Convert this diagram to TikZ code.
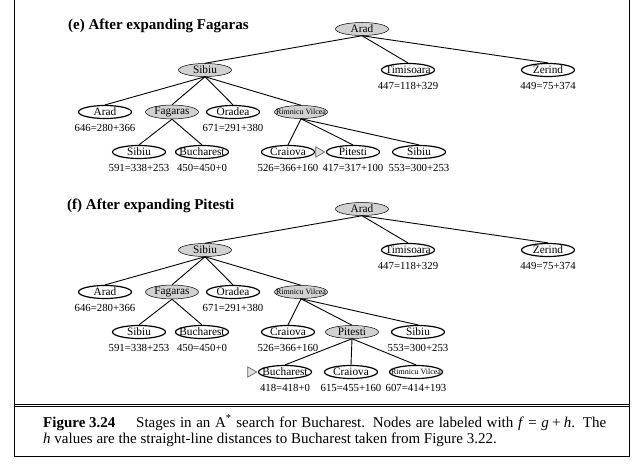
\documentclass[tikz,border=0pt]{standalone}
\usepackage{fontspec}
\setmainfont{Liberation Serif}
\usetikzlibrary{positioning,shapes.geometric}

\begin{document}
\begin{tikzpicture}[x=1pt, y=-1pt, node distance=5.5pt,
    every node/.style={font=\fontsize{11.3}{13}\selectfont, inner sep=0pt},
    city/.style={ellipse, draw, line width=1.2pt, inner xsep=-12pt, minimum width=53pt, minimum height=13pt},
    done/.style={city, fill=black!18, line width=0.5pt},
    tiny city/.style={font=\fontsize{8}{9}\selectfont},
    val/.style={font=\fontsize{10.8}{12}\selectfont},
    edge/.style={line width=0.9pt},
    goalmark/.style={regular polygon, regular polygon sides=3, shape border rotate=-90, draw=black!60, fill=black!12, line width=0.7pt, minimum size=12pt, inner sep=0pt},
    head/.style={font=\fontsize{15}{18}\selectfont\bfseries, anchor=base west},
    captext/.style={font=\fontsize{15}{16}\selectfont, anchor=base west},
    frame/.style={line width=0.9pt},
]
\useasboundingbox (0,0) rectangle (643,468);

% Frame
\draw[frame] (14,0) -- (14,456) -- (629,456) -- (629,0);
\draw[frame] (14,404) -- (629,404);
\draw[frame] (14,406.5) -- (629,406.5);

% (e) After expanding Fagaras
\node[head] (headE) at (68,30) {(e) After expanding Fagaras};
\node[done] (aradE) at (362,29) {Arad};
\node[done] (sibE) at (205,70) {Sibiu};
\node[city] (timE) at (408,70) {Timisoara};
\node[city] (zerE) at (548,70) {Zerind};
\node[city] (arad2E) at (105,112) {Arad};
\node[done] (fagE) at (172,112) {Fagaras};
\node[city] (oraE) at (233,112) {Oradea};
\node[done, tiny city] (rimE) at (301,112) {Rimnicu Vilcea};
\node[city] (sib2E) at (139,152) {Sibiu};
\node[city] (bucE) at (202,152) {Bucharest};
\node[city] (craE) at (288,152) {Craiova};
\node[city] (pitE) at (353,152) {Pitesti};
\node[city] (sib3E) at (419,152) {Sibiu};
\node[goalmark, left=0.5pt of pitE] (goalE) {};

\node[val, below=of timE] (timEv) {447=118+329};
\node[val, below=of zerE] (zerEv) {449=75+374};
\node[val, below=of arad2E] (arad2Ev) {646=280+366};
\node[val, below=of oraE] (oraEv) {671=291+380};
\node[val, below=of sib2E] (sib2Ev) {591=338+253};
\node[val, below=of bucE] (bucEv) {450=450+0};
\node[val, below=of craE] (craEv) {526=366+160};
\node[val, below=of pitE] (pitEv) {417=317+100};
\node[val, below=of sib3E] (sib3Ev) {553=300+253};

\draw[edge] (aradE.south) -- (sibE.north);
\draw[edge] (aradE.south) -- (timE.north);
\draw[edge] (aradE.south) -- (zerE.north);
\draw[edge] (sibE.south) -- (arad2E.north);
\draw[edge] (sibE.south) -- (fagE.north);
\draw[edge] (sibE.south) -- (oraE.north);
\draw[edge] (sibE.south) -- (rimE.north);
\draw[edge] (fagE.south) -- (sib2E.north);
\draw[edge] (fagE.south) -- (bucE.north);
\draw[edge] (rimE.south) -- (craE.north);
\draw[edge] (rimE.south) -- (pitE.north);
\draw[edge] (rimE.south) -- (sib3E.north);

% (f) After expanding Pitesti
\node[head] (headF) at (67,210) {(f) After expanding Pitesti};
\node[done] (aradF) at (362,209) {Arad};
\node[done] (sibF) at (205,250) {Sibiu};
\node[city] (timF) at (408,250) {Timisoara};
\node[city] (zerF) at (548,250) {Zerind};
\node[city] (arad2F) at (105,292) {Arad};
\node[done] (fagF) at (172,292) {Fagaras};
\node[city] (oraF) at (233,292) {Oradea};
\node[done, tiny city] (rimF) at (301,292) {Rimnicu Vilcea};
\node[city] (sib2F) at (139,332) {Sibiu};
\node[city] (bucF) at (202,332) {Bucharest};
\node[city] (craF) at (288,332) {Craiova};
\node[done] (pitF) at (352,332) {Pitesti};
\node[city] (sib3F) at (418,332) {Sibiu};
\node[city] (buc2F) at (285,372) {Bucharest};
\node[city] (cra2F) at (351,372) {Craiova};
\node[city, tiny city] (rim2F) at (416,372) {Rimnicu Vilcea};
\node[goalmark, left=0.5pt of buc2F] (goalF) {};

\node[val, below=of timF] (timFv) {447=118+329};
\node[val, below=of zerF] (zerFv) {449=75+374};
\node[val, below=of arad2F] (arad2Fv) {646=280+366};
\node[val, below=of oraF] (oraFv) {671=291+380};
\node[val, below=of sib2F] (sib2Fv) {591=338+253};
\node[val, below=of bucF] (bucFv) {450=450+0};
\node[val, below=of craF] (craFv) {526=366+160};
\node[val, below=of sib3F] (sib3Fv) {553=300+253};
\node[val, below=of buc2F] (buc2Fv) {418=418+0};
\node[val, below=of cra2F] (cra2Fv) {615=455+160};
\node[val, below=of rim2F] (rim2Fv) {607=414+193};

\draw[edge] (aradF.south) -- (sibF.north);
\draw[edge] (aradF.south) -- (timF.north);
\draw[edge] (aradF.south) -- (zerF.north);
\draw[edge] (sibF.south) -- (arad2F.north);
\draw[edge] (sibF.south) -- (fagF.north);
\draw[edge] (sibF.south) -- (oraF.north);
\draw[edge] (sibF.south) -- (rimF.north);
\draw[edge] (fagF.south) -- (sib2F.north);
\draw[edge] (fagF.south) -- (bucF.north);
\draw[edge] (rimF.south) -- (craF.north);
\draw[edge] (rimF.south) -- (pitF.north);
\draw[edge] (rimF.south) -- (sib3F.north);
\draw[edge] (pitF.south) -- (buc2F.north);
\draw[edge] (pitF.south) -- (cra2F.north);
\draw[edge] (pitF.south) -- (rim2F.north);

% Caption
\node[captext] (capA) at (43,427) {\makebox[563pt][s]{\makebox[93pt][l]{\textbf{Figure 3.24}}Stages in an A\textsuperscript{*} search for Bucharest. Nodes are labeled with \textit{f}\hspace{0.3em}=\hspace{0.3em}\textit{g}\hspace{0.22em}+\hspace{0.22em}\textit{h}. The}};
\node[captext] (capB) at (43,443) {\textit{h} values are the straight-line distances to Bucharest taken from Figure 3.22.};
\end{tikzpicture}
\end{document}
